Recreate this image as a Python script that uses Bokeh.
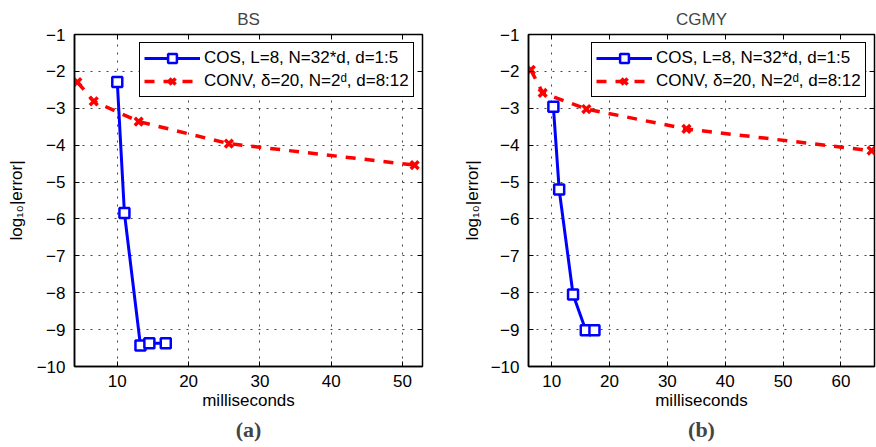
from bokeh.plotting import figure
from bokeh.layouts import row
from bokeh.models import FixedTicker, Title, Range1d, LinearAxis
from bokeh.embed import file_html
from bokeh.resources import INLINE

# ---- data ----
bs_cos_ms = [10.0, 11.0, 13.25, 14.5, 16.8]
bs_cos_err = [-2.29, -5.84, -9.43, -9.37, -9.37]
bs_conv_ms = [4.4, 6.7, 13.0, 25.65, 51.7]
bs_conv_err = [-2.29, -2.81, -3.36, -3.96, -4.54]

cgmy_cos_ms = [10.3, 11.3, 13.7, 15.9, 17.4]
cgmy_cos_err = [-2.96, -5.2, -8.05, -9.02, -9.02]
cgmy_conv_ms = [6.4, 8.45, 16.0, 33.3, 65.3]
cgmy_conv_err = [-1.96, -2.58, -3.02, -3.56, -4.15]

y_ticks = [-1, -2, -3, -4, -5, -6, -7, -8, -9, -10]
bs_x_ticks = [10, 20, 30, 40, 50]
cgmy_x_ticks = [10, 20, 30, 40, 50, 60]

cos_label = "COS, L=8, N=32*d, d=1:5"
conv_label = "CONV, \u03b4=20, N=2\u1d48, d=8:12"

FONT = "Liberation Sans"
FS = "17px"


def tick_only_axis(ticks):
    return LinearAxis(ticker=FixedTicker(ticks=ticks), major_tick_in=5, major_tick_out=0,
                      minor_tick_line_color=None, axis_line_color=None,
                      major_tick_line_color="black", major_label_text_font_size="0px",
                      major_label_standoff=0, major_label_overrides={t: "" for t in ticks})


def make_fig(title, sub, cos_x, cos_y, conv_x, conv_y, xr, xticks,
             width, mb_left, mb_right, ylab_standoff):
    p = figure(width=width, height=447, output_backend="svg", toolbar_location=None,
               x_range=Range1d(*xr), y_range=Range1d(-10, -1),
               min_border_left=mb_left, min_border_right=mb_right,
               min_border_top=34, min_border_bottom=81,
               background_fill_color="white", border_fill_color="white")
    p.title.text = title
    p.title.align = "center"
    p.title.text_font = FONT
    p.title.text_font_size = FS
    p.title.text_font_style = "normal"
    p.title.standoff = 11

    p.outline_line_color = "black"
    p.outline_line_width = 1.5
    p.outline_line_alpha = 1

    p.line(conv_x, conv_y, line_color="red", line_width=3.5, line_dash="10 9",
           legend_label=conv_label)
    p.scatter(conv_x, conv_y, marker="x", size=11, line_color="red", line_width=3.5,
              legend_label=conv_label)
    p.line(cos_x, cos_y, line_color="blue", line_width=3, legend_label=cos_label)
    p.scatter(cos_x, cos_y, marker="square", size=10, line_color="blue", line_width=2.5,
              fill_color="white", legend_label=cos_label)

    p.xaxis.ticker = FixedTicker(ticks=xticks)
    p.yaxis.ticker = FixedTicker(ticks=y_ticks)
    p.yaxis.major_label_overrides = {t: "\u2212%d" % (-t) for t in y_ticks}
    for ax in (p.xaxis, p.yaxis):
        ax.major_tick_in = 5
        ax.major_tick_out = 0
        ax.minor_tick_line_color = None
        ax.major_tick_line_color = "black"
        ax.major_tick_line_width = 1
        ax.axis_line_color = "black"
        ax.axis_line_width = 1.5
        ax.major_label_text_font = FONT
        ax.major_label_text_font_size = FS
        ax.major_label_text_color = "black"
        ax.axis_label_text_font = FONT
        ax.axis_label_text_font_size = FS
        ax.axis_label_text_font_style = "normal"
        ax.axis_label_text_color = "black"
    p.xaxis.axis_label = "milliseconds"
    p.xaxis.major_label_standoff = 8
    p.xaxis.axis_label_standoff = 1
    p.yaxis.axis_label = "log\u2081\u2080|error|"
    p.yaxis.major_label_standoff = 9
    p.yaxis.axis_label_standoff = ylab_standoff

    p.grid.grid_line_color = "#333333"
    p.grid.grid_line_dash = "2 6"
    p.grid.grid_line_width = 1
    p.grid.grid_line_alpha = 0.9

    p.add_layout(tick_only_axis(y_ticks), "right")
    p.add_layout(tick_only_axis(xticks), "above")

    p.add_layout(Title(text=sub, align="center", text_font="Liberation Serif",
                       text_font_style="bold", text_font_size="22px", standoff=5),
                 "below")

    lg = p.legend[0]
    lg.items = list(reversed(lg.items))
    lg.location = "top_right"
    lg.margin = 8
    lg.padding = 4
    lg.spacing = 1
    lg.glyph_width = 56
    lg.glyph_height = 22
    lg.label_height = 22
    lg.label_width = 205
    lg.label_standoff = 4
    lg.border_line_color = "black"
    lg.border_line_width = 1.5
    lg.border_line_alpha = 1
    lg.background_fill_alpha = 1
    lg.label_text_font = FONT
    lg.label_text_font_size = FS
    lg.label_text_color = "black"
    return p


p1 = make_fig("BS", "(a)", bs_cos_ms, bs_cos_err, bs_conv_ms, bs_conv_err,
              (4.0, 52.8), bs_x_ticks, 440, 74, 18, 8)
p2 = make_fig("CGMY", "(b)", cgmy_cos_ms, cgmy_cos_err, cgmy_conv_ms, cgmy_conv_err,
              (6.0, 65.8), cgmy_x_ticks, 436, 88, 2, 6)

layout = row(p1, p2)
open("out.html", "w").write(file_html(layout, INLINE))
